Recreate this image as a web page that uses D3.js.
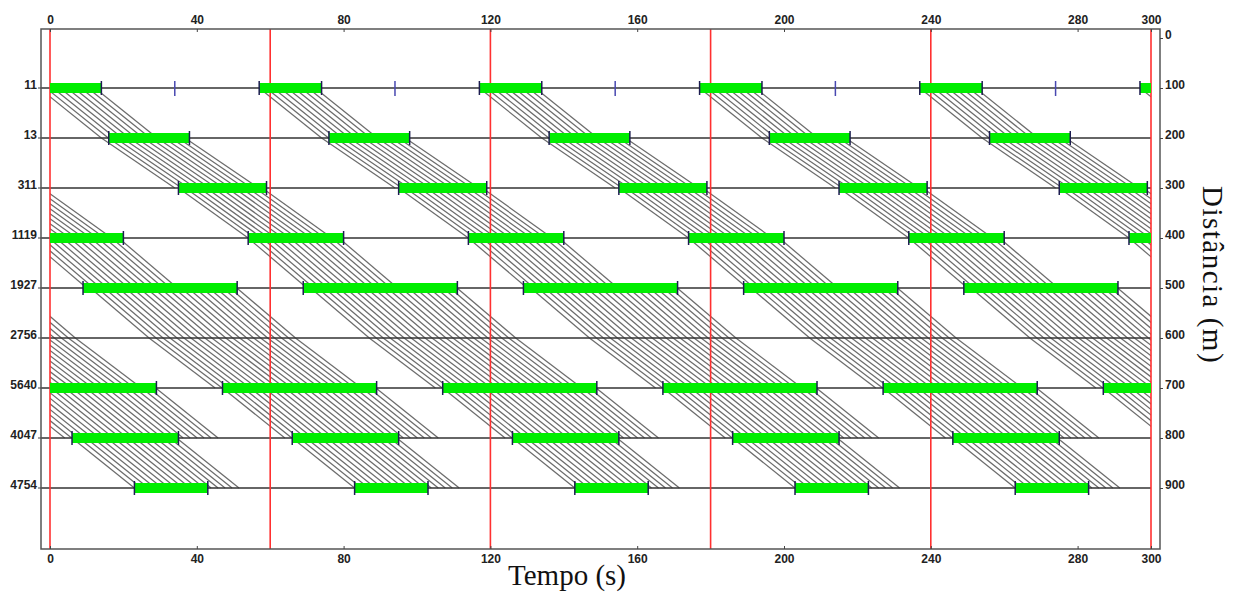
<!DOCTYPE html>
<html><head><meta charset="utf-8">
<script src="https://cdn.jsdelivr.net/npm/d3@7"></script>
<style>
html,body{margin:0;padding:0;background:#fff;}
svg{display:block;}
.tick text{font-family:"Liberation Sans",Arial,sans-serif;font-weight:bold;font-size:12px;fill:#222;}
</style></head>
<body>
<svg id="chart" width="1239" height="597"></svg>
<script>
// ---- data ----
const intersections = ["11","13","311","1119","1927","2756","5640","4047","4754"];
const distances = [100,200,300,400,500,600,700,800,900];
const cycleLength = 60;
// green start / end within the cycle (s); null = no signal
const greenStart = [-3,16,35,-6,9,null,-13,6,23];
const greenEnd   = [14,38,59,20,51,null,29,35,43];
// marks on the first intersection line (s, within cycle)
const markTimes = [34];
// platoons on each link (from intersection i to i+1): departure window and travel time
const linkDepStart = [-3,14,35,-6,11,27,-13,6];
const linkDepEnd   = [14,38,59,20,51,67,29,35];
const linkTravel   = [17,20,19,16,16,18,17,17];
const headway = 1.9;
const timeTicks = [0,40,80,120,160,200,240,280,300];
const distTicks = [0,100,200,300,400,500,600,700,800,900];
const cycleLines = [0,60,120,180,240,300];

(function(){
// ---- scales ----
const x = d3.scaleLinear().domain([0,300]).range([50,1151]);
const y = d3.scaleLinear().domain([0,900]).range([38,488]);
const boxL = 41, boxR = 1160, boxT = 29, boxB = 549;

const svg = d3.select("#chart");
svg.append("defs").append("clipPath").attr("id","plotclip")
  .append("rect").attr("x",x(0)).attr("y",boxT).attr("width",x(300)-x(0)).attr("height",boxB-boxT);

// ---- trajectories (hatch) ----
const traj = [];
for (let i=0;i<linkDepStart.length;i++){
  for (let k=-4;k<=5;k++){
    for (let t=linkDepStart[i]+k*cycleLength; t<=linkDepEnd[i]+k*cycleLength+1e-6; t+=headway){
      traj.push({t0:t, d0:distances[i], t1:t+linkTravel[i], d1:distances[i+1]});
    }
  }
}
const gTraj = svg.append("g").attr("clip-path","url(#plotclip)");
gTraj.selectAll("line").data(traj).join("line")
  .attr("x1",d=>x(d.t0)).attr("y1",d=>y(d.d0))
  .attr("x2",d=>x(d.t1)).attr("y2",d=>y(d.d1))
  .attr("stroke","#6c6c6c").attr("stroke-width",1.25);

// ---- intersection lines ----
svg.append("g").selectAll("line").data(distances).join("line")
  .attr("x1",boxL).attr("x2",x(300)).attr("y1",d=>y(d)).attr("y2",d=>y(d))
  .attr("stroke","#333").attr("stroke-width",1.4);

// ---- red cycle lines ----
svg.append("g").selectAll("line").data(cycleLines).join("line")
  .attr("x1",d=>x(d)).attr("x2",d=>x(d)).attr("y1",boxT).attr("y2",boxB)
  .attr("stroke","#ff3030").attr("stroke-width",1.6);

// ---- greens ----
const greens = [];
intersections.forEach((n,i)=>{
  if (greenStart[i]===null) return;
  for (let k=-1;k<=5;k++){
    const s = greenStart[i]+k*cycleLength, e = greenEnd[i]+k*cycleLength;
    if (e<=0 || s>=300) continue;
    greens.push({d:distances[i], s:Math.max(0,s), e:Math.min(300,e), sIn:s>=0, eIn:e<=300, s0:s, e0:e});
  }
});
const gG = svg.append("g");
gG.selectAll("rect").data(greens).join("rect")
  .attr("x",d=>x(d.s)).attr("width",d=>x(d.e)-x(d.s))
  .attr("y",d=>y(d.d)-5).attr("height",10).attr("fill","#00ee00");
const ends = [];
greens.forEach(g=>{ if(g.sIn) ends.push({t:g.s0,d:g.d}); if(g.eIn && g.e0<300) ends.push({t:g.e0,d:g.d}); });
gG.selectAll("line").data(ends).join("line")
  .attr("x1",d=>x(d.t)).attr("x2",d=>x(d.t)).attr("y1",d=>y(d.d)-7).attr("y2",d=>y(d.d)+7)
  .attr("stroke","#1c1c50").attr("stroke-width",1.5);

// blue marks on first line
const marks = [];
for (let k=0;k<=5;k++) markTimes.forEach(m=>{ const t=m+k*cycleLength; if(t>0&&t<300) marks.push(t); });
svg.append("g").selectAll("line").data(marks).join("line")
  .attr("x1",d=>x(d)).attr("x2",d=>x(d)).attr("y1",y(distances[0])-7).attr("y2",y(distances[0])+8)
  .attr("stroke","#4848b0").attr("stroke-width",1.5);

// ---- box ----
svg.append("rect").attr("x",boxL).attr("y",boxT).attr("width",boxR-boxL).attr("height",boxB-boxT)
  .attr("fill","none").attr("stroke","#555").attr("stroke-width",1.5);

// ---- axes ----
const axTop = svg.append("g").attr("transform",`translate(0,${boxT})`)
  .call(d3.axisTop(x).tickValues(timeTicks).tickSizeInner(-3).tickSizeOuter(0).tickPadding(5));
const axBot = svg.append("g").attr("transform",`translate(0,${boxB})`)
  .call(d3.axisBottom(x).tickValues(timeTicks).tickSizeInner(-3).tickSizeOuter(0).tickPadding(5));
const axRight = svg.append("g").attr("transform",`translate(${boxR},0)`)
  .call(d3.axisRight(y).tickValues(distTicks).tickSizeInner(3).tickSizeOuter(0).tickPadding(2));
axRight.selectAll("text").attr("dy","0.05em");
[axTop,axBot,axRight].forEach(a=>{ a.select(".domain").remove(); a.selectAll(".tick line").attr("stroke","#444"); });

// left labels
const gLeft = svg.append("g");
gLeft.selectAll("text").data(intersections).join("text")
  .attr("x",37).attr("y",(d,i)=>y(distances[i])+1)
  .attr("text-anchor","end")
  .style("font-family","'Liberation Sans',Arial,sans-serif").style("font-weight","bold").style("font-size","12px").attr("fill","#222")
  .text(d=>d);
gLeft.selectAll("line").data(distances).join("line")
  .attr("x1",38).attr("x2",boxL).attr("y1",d=>y(d)).attr("y2",d=>y(d)).attr("stroke","#444");

// titles
svg.append("text").attr("x",567).attr("y",585).attr("text-anchor","middle")
  .style("font-family","'Liberation Serif','Times New Roman',serif").style("font-size","29px").attr("fill","#111")
  .text("Tempo (s)");
svg.append("text").attr("transform","translate(1203,275) rotate(90)").attr("text-anchor","middle")
  .style("font-family","'Liberation Serif','Times New Roman',serif").style("font-size","29px")
  .style("letter-spacing","1.5px").attr("fill","#111")
  .text("Distância (m)");
})();
</script>
</body></html>
